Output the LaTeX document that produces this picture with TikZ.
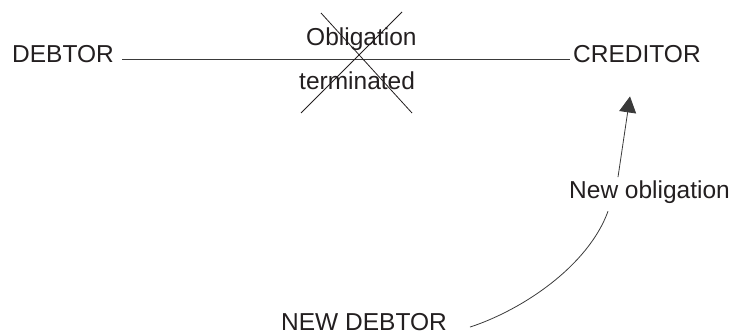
\documentclass[tikz,border=0pt]{standalone}
\usepackage{fontspec}
\setmainfont{Liberation Sans}
\usetikzlibrary{arrows.meta}
\definecolor{ink}{HTML}{231F20}
\definecolor{rule}{HTML}{3A3A3A}
\begin{document}
\begin{tikzpicture}[x=1pt,y=-1pt,
  label/.style={inner sep=0pt,anchor=base west,text=ink,font=\fontsize{24.5}{29}\selectfont},
  link/.style={draw=rule,line width=0.9pt},
  cancel/.style={draw=ink,line width=0.8pt}]
\useasboundingbox (0,0) rectangle (735,334);

% parties
\node[label] (debtor)   at (12,62.5)  {DEBTOR};
\node[label] (creditor) at (573,62.5) {CREDITOR};
\node[label] (newdebtor) at (281,330) {NEW DEBTOR};

% the original obligation, crossed out
\draw[link] ([shift={(8pt,3.5pt)}]debtor.base east) -- ([shift={(-3pt,3.5pt)}]creditor.base west);
\node[label] (oblig) at (306,46) {Obligation};
\node[label] (term)  at (299,90) {terminated};
\draw[cancel] (321,13) -- (412,113);
\draw[cancel] (402,12) -- (301,113);

% the new obligation
\node[label] (newobl) at (569,198) {New obligation};
\draw[link,line width=0.8pt] ([shift={(23pt,-5.5pt)}]newdebtor.east)
  .. controls +(52pt,17pt) and +(-20pt,-55pt) ..
  ([shift={(39pt,-8pt)}]newobl.south west);
\draw[link,line width=0.8pt,-{Triangle[width=17pt,length=16pt]}]
  ([shift={(49pt,3pt)}]newobl.north west) -- ([shift={(57pt,-33.5pt)}]creditor.south west);
\end{tikzpicture}
\end{document}
